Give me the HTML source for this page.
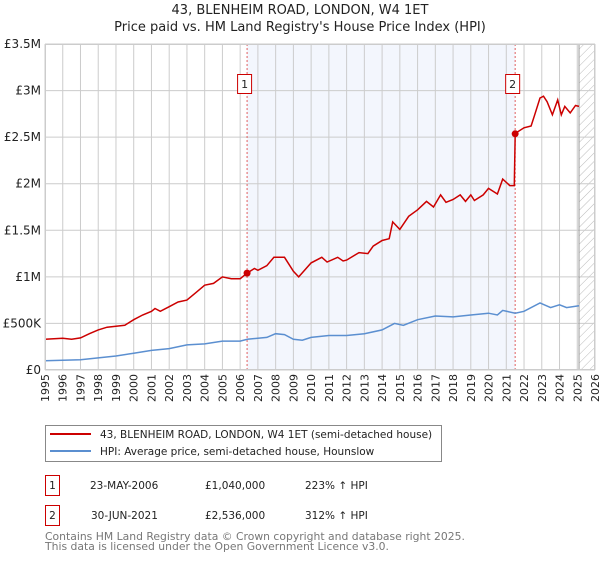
<!DOCTYPE html>
<html><head><meta charset="utf-8"><style>
body{margin:0;background:#fff;font-family:"DejaVu Sans","Liberation Sans",sans-serif}
svg text{font-family:"DejaVu Sans","Liberation Sans",sans-serif}
</style></head><body>
<svg width="600" height="560" xmlns="http://www.w3.org/2000/svg">
<defs><pattern id="hatch" width="6" height="6" patternUnits="userSpaceOnUse" patternTransform="rotate(45)"><line x1="0" y1="0" x2="0" y2="6" stroke="#bbb" stroke-width="1"/></pattern></defs>
<text x="300" y="14" text-anchor="middle" font-size="13" fill="#222">43, BLENHEIM ROAD, LONDON, W4 1ET</text>
<text x="300" y="31" text-anchor="middle" font-size="13" fill="#222">Price paid vs. HM Land Registry's House Price Index (HPI)</text>
<g id="plot"></g>
<g id="legend">
<rect x="45.5" y="425.5" width="396" height="36" fill="#fff" stroke="#888"/>
<line x1="50" y1="434" x2="91" y2="434" stroke="#cc0000" stroke-width="2"/>
<text x="100" y="438" font-size="10.5" fill="#222">43, BLENHEIM ROAD, LONDON, W4 1ET (semi-detached house)</text>
<line x1="50" y1="451" x2="91" y2="451" stroke="#5b8fd0" stroke-width="2"/>
<text x="100" y="455" font-size="10.5" fill="#222">HPI: Average price, semi-detached house, Hounslow</text>
</g>
<g font-size="10.5" fill="#222">
<rect x="45.5" y="475.5" width="14" height="20" fill="#fff" stroke="#cc0000"/>
<text x="52.5" y="489" text-anchor="middle">1</text>
<text x="90" y="489">23-MAY-2006</text>
<text x="205" y="489">£1,040,000</text>
<text x="305" y="489">223% ↑ HPI</text>
<rect x="45.5" y="505.5" width="14" height="20" fill="#fff" stroke="#cc0000"/>
<text x="52.5" y="519" text-anchor="middle">2</text>
<text x="91" y="519">30-JUN-2021</text>
<text x="205" y="519">£2,536,000</text>
<text x="305" y="519">312% ↑ HPI</text>
</g>
<text x="45" y="540" font-size="10.8" fill="#777">Contains HM Land Registry data © Crown copyright and database right 2025.</text>
<text x="45" y="550" font-size="10.8" fill="#777">This data is licensed under the Open Government Licence v3.0.</text>
</svg>
<script>
const redYears=[1995,1996,1996.5,1997,1997.5,1998,1998.5,1999,1999.5,2000,2000.5,2001,2001.2,2001.5,2002,2002.5,2003,2003.5,2004,2004.5,2005,2005.5,2006,2006.39,2006.8,2007,2007.5,2007.9,2008.5,2009,2009.3,2010,2010.6,2010.9,2011.5,2011.8,2012,2012.7,2013.2,2013.5,2014,2014.4,2014.6,2015,2015.5,2016,2016.5,2016.9,2017.3,2017.6,2018,2018.4,2018.7,2019,2019.2,2019.7,2020,2020.5,2020.8,2021.2,2021.45,2021.5,2022,2022.4,2022.6,2022.9,2023.1,2023.3,2023.6,2023.9,2024.1,2024.3,2024.6,2024.9,2025.1];
const redValues=[0.33,0.34,0.33,0.345,0.39,0.43,0.46,0.47,0.48,0.54,0.59,0.63,0.66,0.63,0.68,0.73,0.75,0.83,0.91,0.93,1.0,0.98,0.98,1.04,1.09,1.07,1.12,1.21,1.21,1.06,1.0,1.15,1.21,1.16,1.21,1.17,1.18,1.26,1.25,1.33,1.39,1.41,1.59,1.51,1.65,1.72,1.81,1.75,1.88,1.80,1.83,1.88,1.81,1.88,1.82,1.88,1.95,1.89,2.05,1.98,1.98,2.54,2.6,2.62,2.74,2.92,2.94,2.88,2.74,2.90,2.74,2.83,2.76,2.84,2.83];
const hpiYears=[1995,1997,1998,1999,2000,2001,2002,2003,2004,2005,2006,2006.4,2007.5,2008,2008.5,2009,2009.5,2010,2011,2012,2013,2014,2014.7,2015.2,2016,2017,2018,2019,2020,2020.5,2020.8,2021.5,2022,2022.9,2023.5,2024,2024.4,2025.1];
const hpiValues=[0.10,0.11,0.13,0.15,0.18,0.21,0.23,0.27,0.28,0.31,0.31,0.33,0.35,0.39,0.38,0.33,0.32,0.35,0.37,0.37,0.39,0.43,0.50,0.48,0.54,0.58,0.57,0.59,0.61,0.59,0.64,0.61,0.63,0.72,0.67,0.70,0.67,0.69];
const saleYears=[2006.39,2021.5];
const saleValues=[1.04,2.536];
const saleLabels=["1","2"];
const yTicks=[0,0.5,1,1.5,2,2.5,3,3.5];
const yTickLabels=["£0","£500K","£1M","£1.5M","£2M","£2.5M","£3M","£3.5M"];
const xTicks=[1995,1996,1997,1998,1999,2000,2001,2002,2003,2004,2005,2006,2007,2008,2009,2010,2011,2012,2013,2014,2015,2016,2017,2018,2019,2020,2021,2022,2023,2024,2025,2026];

const X0=45,X1=595,Y0=370,Y1=44;
const xs=y=>X0+(y-1995)/(2026-1995)*(X1-X0);
const ys=v=>Y0-v/3.5*(Y0-Y1);
const NS="http://www.w3.org/2000/svg";
const g=document.getElementById('plot');
function mk(t,a){const e=document.createElementNS(NS,t);for(const k in a)e.setAttribute(k,a[k]);g.appendChild(e);return e;}
let e=mk('rect',{x:xs(saleYears[0]),y:Y1,width:xs(saleYears[1])-xs(saleYears[0]),height:Y0-Y1,fill:'#f3f6fd'});


e=mk('rect',{x:xs(2025.1),y:Y1,width:X1-xs(2025.1),height:Y0-Y1,fill:'url(#hatch)'});


xTicks.forEach((t,i)=>{
 e=mk('line',{x1:xs(t),y1:Y1,x2:xs(t),y2:Y0,stroke:'#ccc','stroke-width':1});
 
 
 e=mk('text',{x:0,y:0,'font-size':11,fill:'#222','text-anchor':'end',transform:`translate(${xs(t)+4},${Y0+4}) rotate(-90)`});
 e.textContent=t;
 
 
});
yTicks.forEach((t,i)=>{
 e=mk('line',{x1:X0,y1:ys(t),x2:X1,y2:ys(t),stroke:'#ccc','stroke-width':1});
 
 
 e=mk('text',{x:X0-4,y:ys(t)+4,'font-size':12,fill:'#222','text-anchor':'end'});
 e.textContent=yTickLabels[i];
 
 
});
e=mk('line',{x1:xs(2025.1),y1:Y1,x2:xs(2025.1),y2:Y0,stroke:'#999','stroke-width':1});


saleYears.forEach((s,i)=>{
 e=mk('line',{x1:xs(s),y1:Y1,x2:xs(s),y2:Y0,stroke:'#e06060','stroke-width':1,'stroke-dasharray':'2,2'});
 
 
});
const path=(xa,va)=>xa.map((x,i)=>(i?'L':'M')+xs(x).toFixed(1)+','+ys(va[i]).toFixed(1)).join('');
e=mk('path',{d:path(hpiYears,hpiValues),fill:'none',stroke:'#5b8fd0','stroke-width':1.5});


e=mk('path',{d:path(redYears,redValues),fill:'none',stroke:'#cc0000','stroke-width':1.5});


saleYears.forEach((s,i)=>{
 e=mk('circle',{cx:xs(s),cy:ys(saleValues[i]),r:3.5,fill:'#cc0000'});
 
 
 e=mk('rect',{x:xs(s)-9.5,y:74.5,width:14,height:19,fill:'#fff',stroke:'#cc0000'});
 
 
 e=mk('text',{x:xs(s)-2.5,y:88,'font-size':11,fill:'#222','text-anchor':'middle'});
 e.textContent=saleLabels[i];
 
 
});
e=mk('rect',{x:X0+0.5,y:Y1+0.5,width:X1-X0-1,height:Y0-Y1-1,fill:'none',stroke:'#ccc'});


</script>
</body></html>
